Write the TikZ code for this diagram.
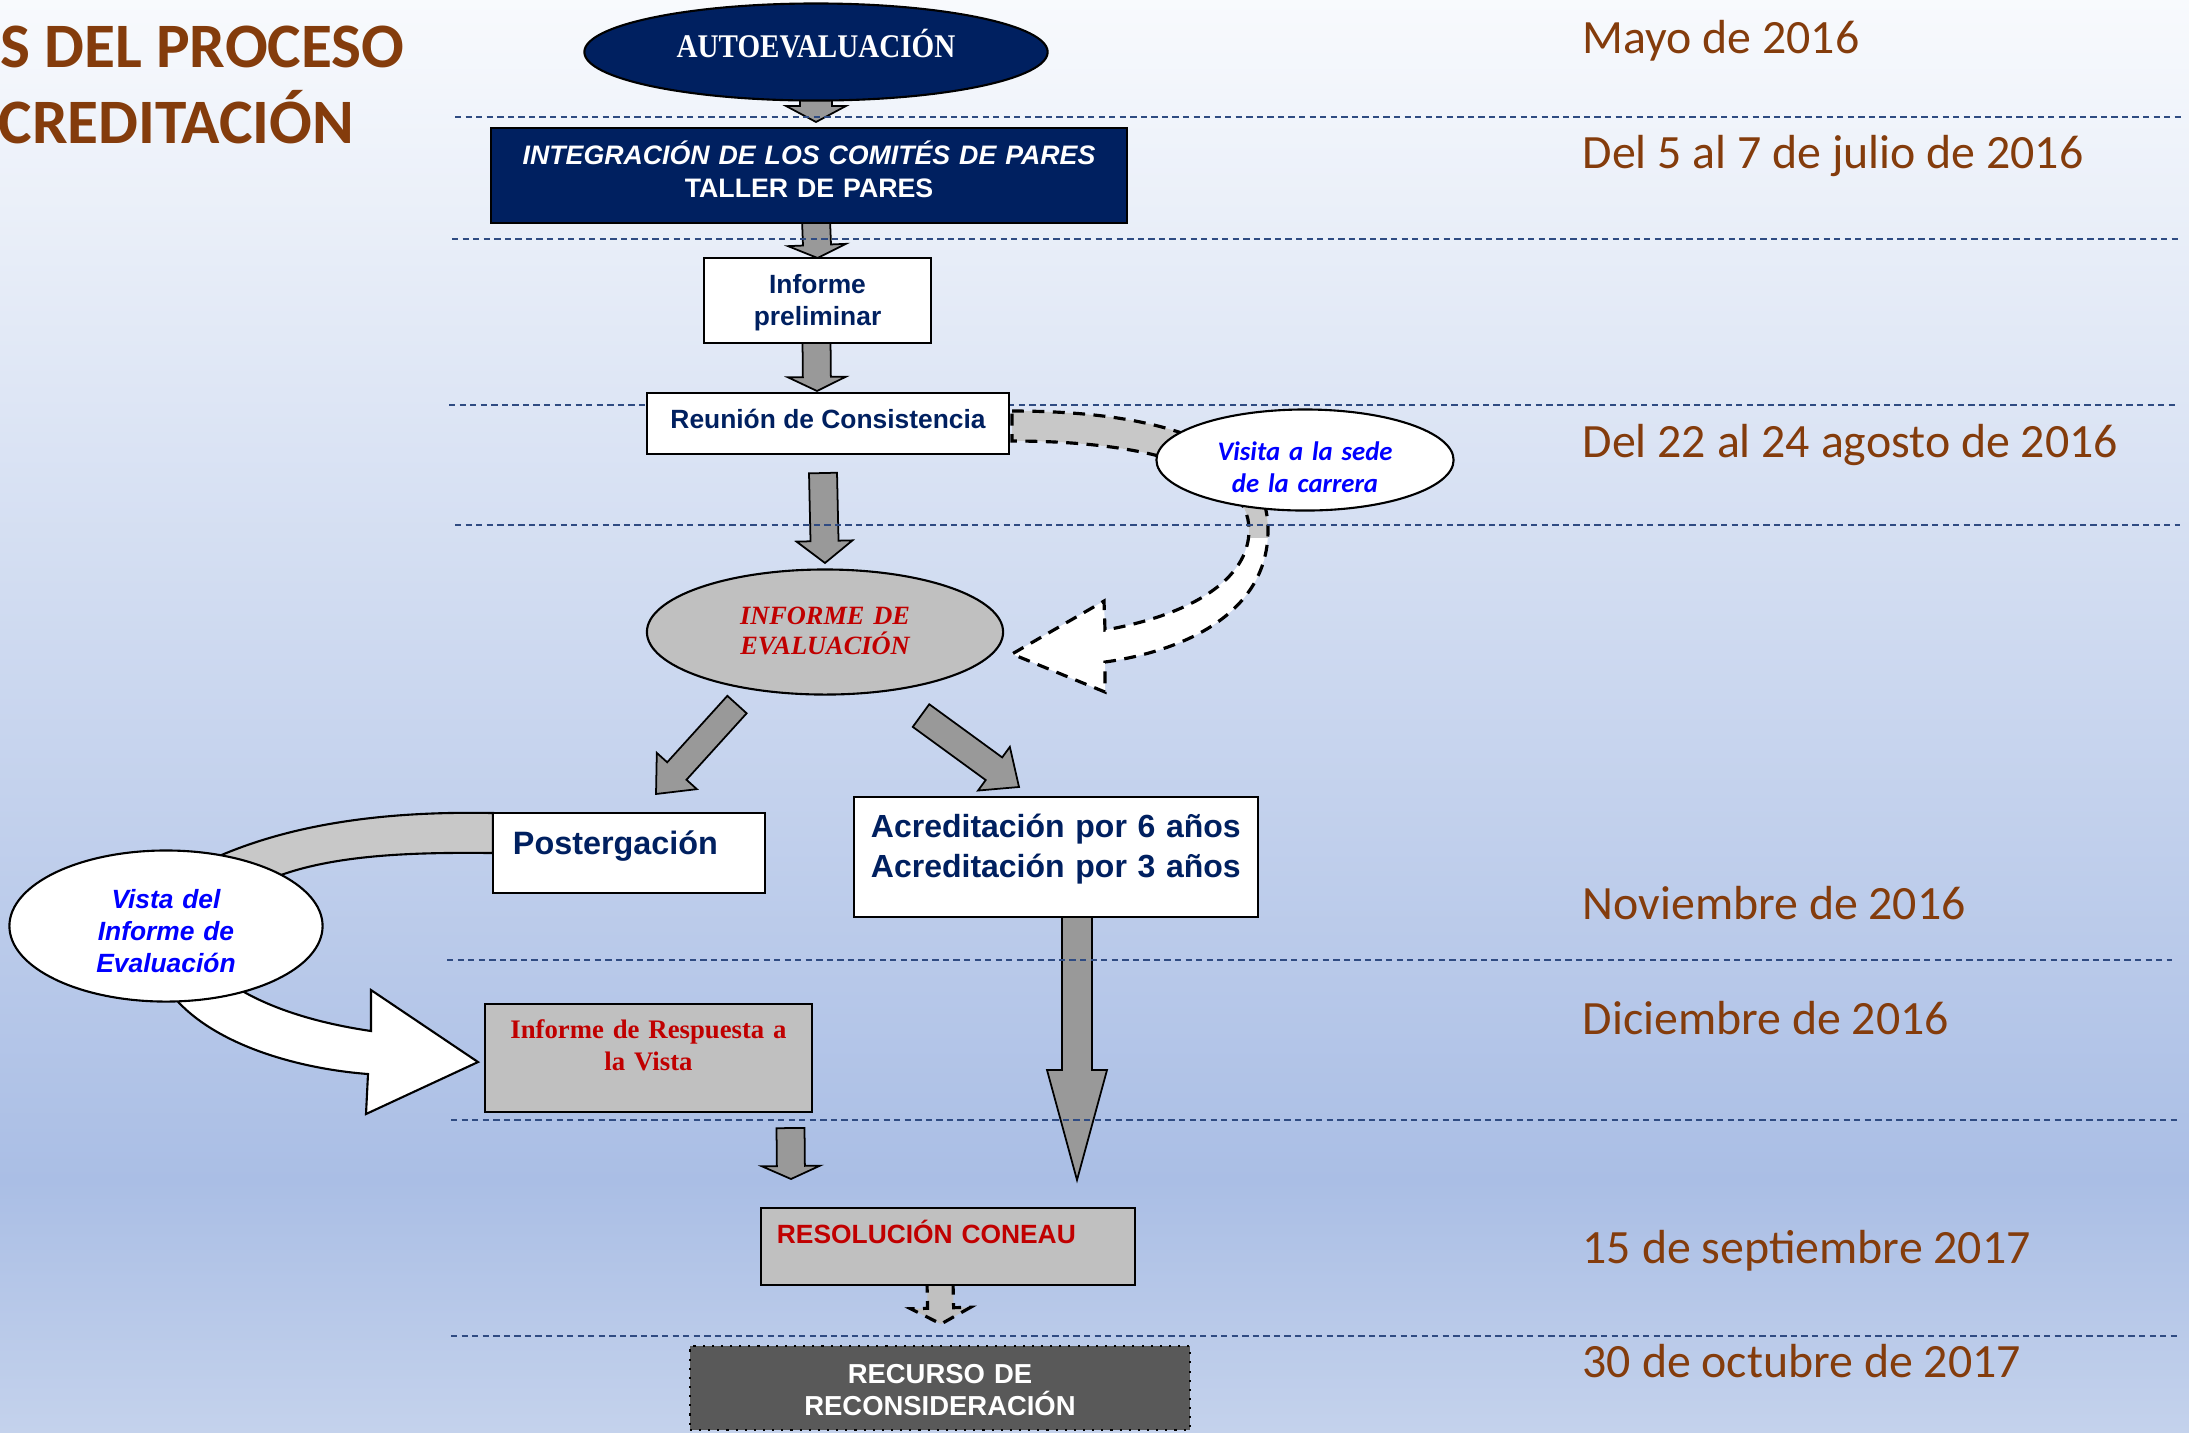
\documentclass[tikz,border=0pt]{standalone}
\usepackage{fontspec}
\setmainfont{Liberation Sans}
\newfontfamily\arialf{Liberation Sans}
\newfontfamily\timesf{Liberation Serif}
\newfontfamily\timesn[FakeStretch=0.88]{Liberation Serif}
\newfontfamily\calib{Carlito}
\usetikzlibrary{shapes.geometric,calc}
\pgfdeclarelayer{bg}\pgfdeclarelayer{arr}\pgfdeclarelayer{lines}
\pgfsetlayers{bg,arr,lines,main}
\definecolor{navy}{HTML}{002060}
\definecolor{brownc}{HTML}{843C0C}
\definecolor{redc}{HTML}{C00000}
\definecolor{bluec}{HTML}{0000FF}
\definecolor{linec}{HTML}{2F4B82}
\definecolor{arrg}{HTML}{999999}
\definecolor{boxg}{HTML}{C0C0C0}
\definecolor{bandg}{HTML}{C8C8C8}
\definecolor{darkg}{HTML}{595959}
\definecolor{bgtop}{HTML}{F8FAFD}
\definecolor{bgmid}{HTML}{AABEE5}
\definecolor{bgbot}{HTML}{C4D2EC}
\tikzset{
  boxn/.style={rectangle, draw=black, line width=0.6pt, inner sep=0pt, outer sep=0pt},
  elln/.style={ellipse, draw=black, line width=0.6pt, inner sep=0pt, outer sep=0pt},
  barrow/.style={fill=arrg, draw=black, line width=0.5pt, line join=miter},
  dashout/.style={draw=black, line width=0.9pt, dash pattern=on 3.4pt off 2.4pt},
  hline/.style={draw=linec, line width=0.5pt, dash pattern=on 1.8pt off 1.2pt},
  datet/.style={anchor=base west, inner sep=0pt, text=brownc, font=\calib\fontsize{13.6}{16}\selectfont},
  titlet/.style={anchor=base east, inner sep=0pt, text=brownc, font=\calib\bfseries\fontsize{18}{22}\selectfont},
}
\newcommand{\blockarrow}[6][]{%
  \coordinate (bac) at ($(#3)!#6!(#2)$);
  \filldraw[barrow,#1] ($(#2)!#4!90:(#3)$) -- ($(bac)!#4!90:(#3)$) -- ($(bac)!#5!90:(#3)$) -- (#3) -- ($(bac)!#5!-90:(#3)$) -- ($(bac)!#4!-90:(#3)$) -- ($(#2)!#4!-90:(#3)$) -- cycle;}
\begin{document}
\begin{tikzpicture}[x=0.01cm, y=-0.01cm]
\useasboundingbox (0,0) rectangle (2189,1432);
\begin{pgfonlayer}{bg}
\shade[top color=bgtop, bottom color=bgmid] (0,0) rectangle (2189,1181);
\shade[top color=bgmid, bottom color=bgbot] (0,1180) rectangle (2189,1432);
\end{pgfonlayer}

% title and dates
\node[titlet] (t1) at (405,67) {S DEL PROCESO};
\node[titlet] (t2) at (355,143) {CREDITACIÓN};
\node[datet] (d1) at (1582,53) {Mayo de 2016};
\node[datet] (d2) at (1582,168) {Del 5 al 7 de julio de 2016};
\node[datet] (d3) at (1582,457) {Del 22 al 24 agosto de 2016};
\node[datet] (d4) at (1582,919) {Noviembre de 2016};
\node[datet] (d5) at (1582,1034) {Diciembre de 2016};
\node[datet] (d6) at (1582,1263) {15 de septiembre 2017};
\node[datet] (d7) at (1582,1377) {30 de octubre de 2017};

% nodes
\node[elln, fill=navy, text=white, minimum width=4.63cm, minimum height=0.97cm,
  font=\timesn\bfseries\fontsize{9.4}{11}\selectfont, text height=0.10cm, text depth=0cm]
  (auto) at (816,52) {AUTOEVALUACIÓN};
\node[boxn, fill=navy, text=white, minimum width=6.36cm, minimum height=0.95cm,
  font=\arialf\bfseries\fontsize{7.6}{9.4}\selectfont, text width=6.2cm, align=center,
  text height=0cm, text depth=0.23cm]
  (integ) at (809,175.5) {{\itshape INTEGRACIÓN DE LOS COMITÉS DE PARES}\\TALLER DE PARES};
\node[boxn, fill=white, text=navy, minimum width=2.27cm, minimum height=0.85cm,
  font=\arialf\bfseries\fontsize{7.5}{9.1}\selectfont, text width=2.1cm, align=center,
  text height=0cm, text depth=0.15cm]
  (prelim) at (817.5,300.5) {Informe\\preliminar};
\node[boxn, fill=white, text=navy, minimum width=3.62cm, minimum height=0.61cm,
  font=\arialf\bfseries\fontsize{7.5}{9.1}\selectfont, text height=0.09cm, text depth=0cm]
  (reunion) at (828,423.5) {Reunión de Consistencia};
\node[elln, fill=boxg, text=redc, minimum width=3.56cm, minimum height=1.25cm,
  font=\timesf\bfseries\itshape\fontsize{7.5}{8.8}\selectfont, text width=1.9cm, align=center,
  text height=0cm, text depth=0.16cm]
  (informe) at (825,632) {INFORME DE\\EVALUACIÓN};
\node[elln, fill=white, text=bluec, minimum width=2.97cm, minimum height=1.01cm,
  font=\calib\bfseries\itshape\fontsize{7.6}{9.1}\selectfont, text width=1.9cm, align=center,
  text height=0cm, text depth=0cm]
  (visita) at (1305,460) {Visita a la sede\\de la carrera};
\node[boxn, fill=white, text=navy, minimum width=2.72cm, minimum height=0.80cm,
  font=\arialf\bfseries\fontsize{9.2}{11}\selectfont, text width=2.32cm, align=left,
  text height=0.02cm, text depth=0cm]
  (poster) at (629,853) {Postergación};
\node[boxn, fill=white, text=navy, minimum width=4.04cm, minimum height=1.20cm,
  font=\arialf\bfseries\fontsize{9.1}{11.5}\selectfont, text width=3.70cm, align=left,
  text height=0cm, text depth=0.40cm]
  (acred) at (1056,857) {Acreditación por 6 años\\Acreditación por 3 años};
\node[elln, fill=white, text=bluec, minimum width=3.13cm, minimum height=1.51cm,
  font=\arialf\bfseries\itshape\fontsize{7.5}{9.1}\selectfont, text width=2.0cm, align=center,
  text height=0cm, text depth=0.36cm]
  (vista) at (166,926) {Vista del\\Informe de\\Evaluación};
\node[boxn, fill=boxg, text=redc, minimum width=3.27cm, minimum height=1.08cm,
  font=\timesf\bfseries\fontsize{7.6}{9.1}\selectfont, text width=3.0cm, align=center,
  text height=0cm, text depth=0.40cm]
  (resp) at (648.5,1058) {Informe de Respuesta a\\la Vista};
\node[boxn, fill=boxg, text=redc, minimum width=3.74cm, minimum height=0.77cm,
  font=\arialf\bfseries\fontsize{7.5}{9.1}\selectfont, text width=3.42cm, align=left,
  text height=0cm, text depth=0.07cm]
  (resol) at (948,1246.5) {RESOLUCIÓN CONEAU};
\node[boxn, fill=darkg, text=white, dotted, minimum width=5.00cm, minimum height=0.84cm,
  font=\arialf\bfseries\fontsize{7.8}{9.1}\selectfont, text width=4cm, align=center,
  text height=0cm, text depth=0.10cm]
  (recurso) at (940,1388) {RECURSO DE\\RECONSIDERACIÓN};

% arrow end points
\coordinate (a1s) at ($(auto.south)+(0,-8)$);
\coordinate (a1e) at ($(integ.north)+(7,-6)$);
\coordinate (a2s) at ($(integ.south)+(7,-3)$);
\coordinate (a2e) at (prelim.north);
\coordinate (a3s) at ($(prelim.south)+(-1,-3)$);
\coordinate (a3e) at ($(reunion.north)+(-11,-2)$);
\coordinate (a4s) at ($(reunion.south)+(-5,19)$);
\coordinate (a4e) at ($(informe.north)+(0,-6.5)$);
\coordinate (a5s) at ($(informe.south)+(-88,10)$);
\coordinate (a5e) at ($(poster.north)+(27,-19)$);
\coordinate (a6s) at ($(informe.south)+(96,21)$);
\coordinate (a6e) at ($(acred.north)+(-37,-10)$);
\coordinate (a7s) at ($(acred.south)+(21,-3)$);
\coordinate (a7e) at ($(resol.north)+(129,-28)$);
\coordinate (a8s) at ($(resp.south)+(142,16)$);
\coordinate (a8e) at ($(resol.north)+(-157,-29)$);
\coordinate (a9s) at ($(resol.south)+(-8,-2)$);
\coordinate (a9e) at ($(recurso.north)+(1,-22)$);

\begin{pgfonlayer}{arr}
\blockarrow{a1s}{a1e}{0.16cm}{0.30cm}{0.16cm}
\blockarrow{a2s}{a2e}{0.14cm}{0.29cm}{0.13cm}
\blockarrow{a3s}{a3e}{0.14cm}{0.29cm}{0.14cm}
\blockarrow{a4s}{a4e}{0.14cm}{0.28cm}{0.22cm}
\blockarrow{a5s}{a5e}{0.13cm}{0.27cm}{0.31cm}
\blockarrow{a6s}{a6e}{0.14cm}{0.27cm}{0.31cm}
\blockarrow{a7s}{a7e}{0.15cm}{0.30cm}{1.10cm}
\blockarrow{a8s}{a8e}{0.14cm}{0.29cm}{0.13cm}
\blockarrow[fill=boxg, dashout]{a9s}{a9e}{0.13cm}{0.30cm}{0.16cm}

% dashed curved arrow Reunion -> Visita -> Informe
\path[save path=\visitapath] (1012,411) .. controls (1150,411) and (1268,440) .. (1268,530)
  .. controls (1268,610) and (1190,650) .. (1105,662) -- (1105,692) -- (1012,654) -- (1104,601) -- (1105,630)
  .. controls (1190,615) and (1249,580) .. (1249,530)
  .. controls (1249,470) and (1150,441) .. (1012,441) -- cycle;
\fill[white, use path=\visitapath];
\begin{scope}
\clip (900,380) rectangle (1400,537);
\fill[bandg, use path=\visitapath];
\end{scope}
\draw[dashout, use path=\visitapath];

% gray band Postergacion -> Vista
\filldraw[fill=bandg, draw=black, line width=0.6pt] (493,813) .. controls (390,811) and (280,822) .. (190,870)
  -- (240,895) .. controls (300,855) and (400,852) .. (493,853) -- cycle;
% white arrow Vista -> Informe de Respuesta
\filldraw[fill=white, draw=black, line width=0.6pt] (165,985) .. controls (200,1040) and (290,1068) .. (368,1074)
  -- (366,1114) -- (478,1062) -- (371,990) -- (371,1031)
  .. controls (310,1022) and (260,1005) .. (225,980) -- cycle;
\end{pgfonlayer}

\begin{pgfonlayer}{lines}
\draw[hline] (455,117) -- (2185,117);
\draw[hline] (452,239) -- (2178,239);
\draw[hline] (449,405) -- (2178,405);
\draw[hline] (455,525) -- (2180,525);
\draw[hline] (447,960) -- (2172,960);
\draw[hline] (451,1120) -- (2178,1120);
\draw[hline] (451,1336) -- (2178,1336);
\end{pgfonlayer}
\end{tikzpicture}
\end{document}
